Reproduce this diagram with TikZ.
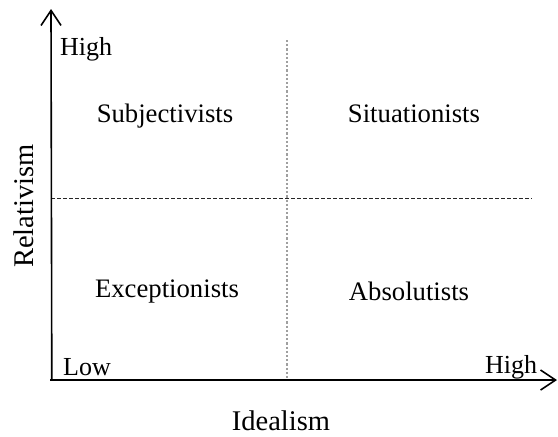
\documentclass[tikz,border=0pt]{standalone}
\usepackage{fontspec}
\setmainfont{Liberation Serif}
\usetikzlibrary{arrows.meta}
\begin{document}
\begin{tikzpicture}[x=1pt,y=-1pt,
  quad/.style={anchor=base,inner sep=0pt,font=\fontsize{26.7}{30}\selectfont},
  axlab/.style={anchor=base,inner sep=0pt,font=\fontsize{28.5}{32}\selectfont},
  ticklab/.style={anchor=base west,inner sep=0pt,font=\fontsize{26}{30}\selectfont},
  axisline/.style={line width=1.6pt,-{Straight Barb[length=15pt,width=20pt,line width=1.6pt]}},
  hdash/.style={line width=1pt,black!85,dash pattern=on 3.5pt off 2.5pt},
  vdash/.style={line width=1.2pt,gray!75,dash pattern=on 2.2pt off 2pt}]
\useasboundingbox (0,0) rectangle (558,437);
\coordinate (origin) at (51,380);
\coordinate (ytip) at (51,9);
\coordinate (xtip) at (557,380);
\coordinate (hl) at (51,198);
\coordinate (hr) at (532,198);
\coordinate (vt) at (287,40);
\coordinate (vb) at (287,380);
\draw[vdash] (vt) -- (vb);
\draw[hdash] (hl) -- (hr);
\draw[axisline] ([xshift=0.8pt]origin) -- (ytip);
\draw[axisline] ([xshift=-0.8pt]origin) -- (xtip);
\node[ticklab] (yhigh) at (60,55) {High};
\node[ticklab] (low) at (63,375) {Low};
\node[ticklab] (xhigh) at (485,373) {High};
\node[quad] (subj) at (165,122) {Subjectivists};
\node[quad] (situ) at (414,122) {Situationists};
\node[quad] (exce) at (167,297) {Exceptionists};
\node[quad] (abso) at (409,300) {Absolutists};
\node[axlab] (ideal) at (281,430) {Idealism};
\node[axlab,rotate=90] (rel) at (33,206) {Relativism};
\end{tikzpicture}
\end{document}
